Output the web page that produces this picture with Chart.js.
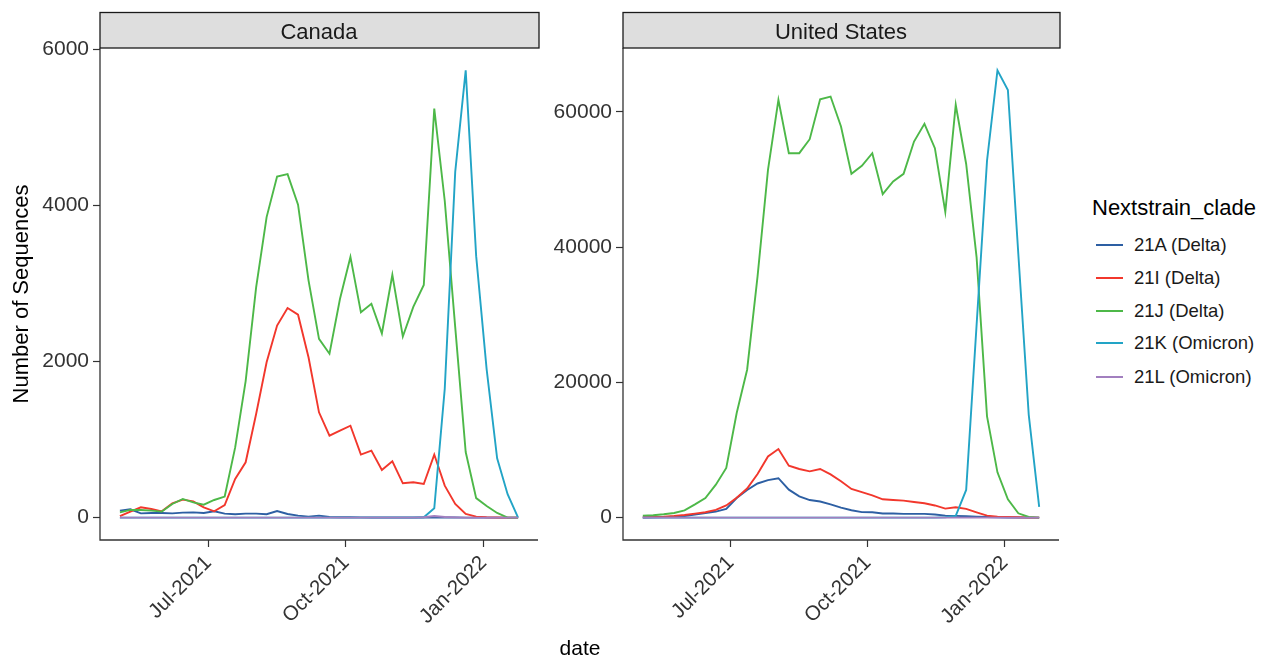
<!DOCTYPE html>
<html>
<head>
<meta charset="utf-8">
<script src="https://cdn.jsdelivr.net/npm/chart.js@4.4.1/dist/chart.umd.min.js"></script>
<style>
html,body{margin:0;padding:0;background:#fff;}
body{width:1273px;height:659px;position:relative;overflow:hidden;font-family:"Liberation Sans",Arial,sans-serif;}
canvas{position:absolute;top:0;}
#c1{left:0;}
#c2{left:545px;}
#xtitle{position:absolute;left:480px;width:200px;top:635px;text-align:center;font-size:21px;color:#000;line-height:26px;}
#legend{position:absolute;left:0;top:0;}
.lt{position:absolute;left:1092px;top:195px;font-size:22px;color:#000;line-height:26px;white-space:nowrap;}
.li{position:absolute;left:1096px;height:26px;white-space:nowrap;}
.li .k{position:absolute;left:0;top:12px;width:27px;height:2px;}
.li .t{position:absolute;left:38px;top:0;font-size:18.5px;line-height:26px;color:#1a1a1a;}
</style>
</head>
<body>
<canvas id="c1" width="545" height="659"></canvas>
<canvas id="c2" width="521" height="659"></canvas>
<div id="xtitle">date</div>
<div id="legend"></div>
<script>
// ---- data ----
const dates = ["2021-05-03","2021-05-10","2021-05-17","2021-05-24","2021-05-31","2021-06-07","2021-06-14","2021-06-21","2021-06-28","2021-07-05","2021-07-12","2021-07-19","2021-07-26","2021-08-02","2021-08-09","2021-08-16","2021-08-23","2021-08-30","2021-09-06","2021-09-13","2021-09-20","2021-09-27","2021-10-04","2021-10-11","2021-10-18","2021-10-25","2021-11-01","2021-11-08","2021-11-15","2021-11-22","2021-11-29","2021-12-06","2021-12-13","2021-12-20","2021-12-27","2022-01-03","2022-01-10","2022-01-17","2022-01-24"];

const clades = ["21A (Delta)","21I (Delta)","21J (Delta)","21K (Omicron)","21L (Omicron)"];
const cladeColors = ["#2d5fa3","#f2372c","#4db848","#22a4c6","#a27fbf"];

const canada21A = [90,107,55,60,60,55,64,68,60,81,51,43,51,51,43,85,47,26,13,26,9,5,4,3,2,2,1,1,1,1,3,1,1,0,0,0,0,0,0];
const canada21I = [20,77,132,111,81,184,230,209,132,81,162,495,709,1328,1990,2460,2686,2600,2054,1349,1050,1114,1178,807,858,611,722,440,453,431,808,410,175,47,13,5,2,0,0];
const canada21J = [68,100,98,90,77,175,240,196,166,226,270,900,1750,2950,3850,4370,4400,4010,3040,2290,2100,2800,3340,2630,2740,2360,3110,2320,2700,2980,5240,4060,2440,840,250,150,60,0,0];
const canada21K = [0,0,0,0,0,0,0,0,0,0,0,0,0,0,0,0,0,0,0,0,0,0,0,0,0,0,0,0,0,5,120,1650,4430,5730,3350,1900,760,300,0];
const canada21L = [0,0,0,0,0,0,0,0,0,0,0,0,0,0,0,0,0,0,0,0,0,0,0,0,0,0,0,0,0,5,20,8,3,0,0,0,0,0,0];

const us21A = [20,40,80,150,246,443,690,900,1281,2900,4100,5050,5550,5830,4139,3153,2600,2380,1970,1480,1100,810,790,610,610,560,560,560,470,296,260,197,148,99,49,20,10,5,0];
const us21I = [49,99,148,246,394,591,800,1150,1800,2950,4300,6450,9050,10150,7690,7190,6850,7190,6400,5370,4240,3770,3280,2710,2610,2510,2320,2120,1800,1330,1530,1300,790,296,148,99,49,20,0];
const us21J = [296,345,493,690,1084,1971,2907,4878,7341,15470,21876,35671,51438,61784,53901,53901,55970,61882,62277,57842,50846,52028,53901,47841,49713,50846,55625,58236,54639,45200,61045,52300,38500,14978,6700,2700,640,99,0];
const us21K = [0,0,0,0,0,0,0,0,0,0,0,0,0,0,0,0,0,0,0,0,0,0,0,0,0,0,0,0,0,50,250,4100,28500,52800,66150,63250,39000,15200,1600];
const us21L = [0,0,0,0,0,0,0,0,0,0,0,0,0,0,0,0,0,0,0,0,0,0,0,0,0,0,0,0,0,0,0,0,0,0,0,0,0,0,0];

const xTickDates = ["2021-07-01","2021-10-01","2022-01-01"];
const xTickLabels = ["Jul-2021","Oct-2021","Jan-2022"];
const canadaYTicks = [0,2000,4000,6000];
const usYTicks = [0,20000,40000,60000];
const panelTitles = ["Canada","United States"];
const yAxisTitle = "Number of Sequences";

// ---- helpers ----
const DAY = 86400000;
const t0 = Date.parse(dates[0] + "T00:00:00Z");
const toDay = s => (Date.parse(s + "T00:00:00Z") - t0) / DAY;
const xDays = dates.map(toDay);
const xTickDays = xTickDates.map(toDay);
const xMinData = Math.min(...xDays), xMaxData = Math.max(...xDays);
const xPad = (xMaxData - xMinData) * 0.05;

const FONT = '"Liberation Sans", Arial, sans-serif';

const stripPlugin = {
  id: 'strip',
  afterDraw(chart, args, opts) {
    const {ctx, chartArea: a} = chart;
    ctx.save();
    // axis lines (left and bottom)
    ctx.strokeStyle = '#333';
    ctx.lineWidth = 1.3;
    ctx.beginPath();
    ctx.moveTo(a.left, a.top);
    ctx.lineTo(a.left, a.bottom);
    ctx.lineTo(a.right, a.bottom);
    ctx.stroke();
    // strip
    ctx.fillStyle = '#dedede';
    ctx.fillRect(a.left, 12.5, a.right - a.left + 1, 35.5);
    ctx.strokeStyle = '#1a1a1a';
    ctx.lineWidth = 1.3;
    ctx.strokeRect(a.left, 12.5, a.right - a.left + 1, 35.5);
    ctx.fillStyle = '#1a1a1a';
    ctx.font = '22px ' + FONT;
    ctx.textAlign = 'center';
    ctx.textBaseline = 'middle';
    ctx.fillText(opts.text, (a.left + a.right) / 2, 33);
    ctx.restore();
  }
};

function makeChart(id, series, yTicks, title, yWidth, showYTitle) {
  const maxV = Math.max(...series.flat());
  const datasets = series.map((vals, i) => ({
    label: clades[i],
    data: vals.map((v, j) => ({x: xDays[j], y: v})),
    borderColor: cladeColors[i],
    backgroundColor: cladeColors[i],
    borderWidth: 1.9,
    pointRadius: 0,
    tension: 0,
    fill: false,
    order: series.length - i
  }));
  return new Chart(document.getElementById(id), {
    type: 'line',
    data: {datasets},
    plugins: [stripPlugin],
    options: {
      responsive: false,
      animation: false,
      events: [],
      layout: {padding: {top: 48, right: 7, bottom: 0, left: 0}},
      plugins: {legend: {display: false}, tooltip: {enabled: false}, strip: {text: title}},
      scales: {
        x: {
          type: 'linear',
          min: xMinData - xPad,
          max: xMaxData + xPad,
          afterBuildTicks: s => { s.ticks = xTickDays.map(v => ({value: v})); },
          afterFit: s => { s.height = 119; },
          grid: {display: true, drawOnChartArea: false, drawTicks: true, tickLength: 7, tickColor: '#333', tickWidth: 1.2},
          border: {display: false},
          ticks: {
            autoSkip: false, minRotation: 45, maxRotation: 45, padding: 4,
            color: '#333', font: {family: FONT, size: 20.5},
            callback: v => { const k = xTickDays.indexOf(v); return k >= 0 ? xTickLabels[k] : ''; }
          }
        },
        y: {
          type: 'linear',
          min: -0.05 * maxV,
          max: 1.05 * maxV,
          afterBuildTicks: s => { s.ticks = yTicks.map(v => ({value: v})); },
          afterFit: s => { s.width = yWidth; },
          grid: {display: true, drawOnChartArea: false, drawTicks: true, tickLength: 7, tickColor: '#333', tickWidth: 1.2},
          border: {display: false},
          ticks: {padding: 4, color: '#333', font: {family: FONT, size: 21}, callback: v => String(v)},
          title: {display: showYTitle, text: yAxisTitle, color: '#000', font: {family: FONT, size: 22}, padding: {top: 9, bottom: 0}}
        }
      }
    }
  });
}

makeChart('c1', [canada21A, canada21I, canada21J, canada21K, canada21L], canadaYTicks, panelTitles[0], 100, true);
makeChart('c2', [us21A, us21I, us21J, us21K, us21L], usYTicks, panelTitles[1], 78, false);

// ---- legend ----
const leg = document.getElementById('legend');
const lt = document.createElement('div');
lt.className = 'lt';
lt.textContent = 'Nextstrain_clade';
leg.appendChild(lt);
const itemY = [232, 265, 298, 330, 364];
clades.forEach((c, i) => {
  const d = document.createElement('div');
  d.className = 'li';
  d.style.top = itemY[i] + 'px';
  const k = document.createElement('div');
  k.className = 'k';
  k.style.background = cladeColors[i];
  const t = document.createElement('div');
  t.className = 't';
  t.textContent = c;
  d.appendChild(k); d.appendChild(t);
  leg.appendChild(d);
});
</script>
</body>
</html>
